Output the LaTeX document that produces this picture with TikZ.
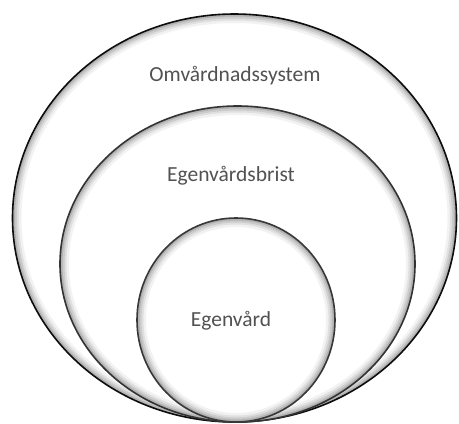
\documentclass[tikz,border=0pt]{standalone}
\usepackage{fontspec}
\setmainfont{Carlito}
\begin{document}
\begin{tikzpicture}[x=1pt,y=-1pt,
  lbl/.style={text=black!68, font=\fontsize{21.5}{24}\selectfont, inner sep=0pt},
  rim/.style={line width=1.6pt}]
\useasboundingbox (0,0) rectangle (459,424);
\fill[white] (0,0) rectangle (459,424);
% ellipse definitions: cx, cy, rx, ry, rim colour
\foreach \cx/\cy/\rx/\ry/\col in {234.5/218/222/204/black!95, 237.5/264/177.5/158/black!80, 236/320/99/102/black!78}{
  \fill[white] (\cx,\cy) ellipse [x radius=\rx, y radius=\ry];
  \begin{scope}
    \clip (\cx,\cy) ellipse [x radius=\rx, y radius=\ry];
    \foreach \w/\o in {18/0.05, 13/0.07, 9/0.09, 5/0.12}
      \draw[line width=\w pt, black, opacity=\o] (\cx,\cy) ellipse [x radius=\rx, y radius=\ry];
  \end{scope}
  \draw[rim, \col] (\cx,\cy) ellipse [x radius=\rx, y radius=\ry];
}
\node[lbl] (sys) at (235,76) {Omvårdnadssystem};
\node[lbl] (brist) at (231,176) {Egenvårdsbrist};
\node[lbl] (egen) at (231,321) {Egenvård};
\end{tikzpicture}
\end{document}
